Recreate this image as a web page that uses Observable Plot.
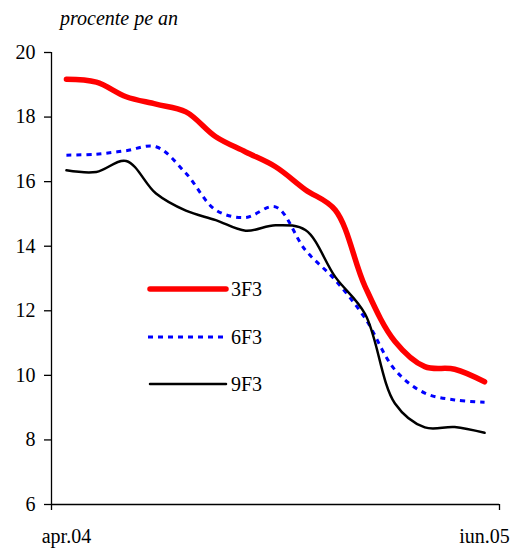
<!DOCTYPE html>
<html>
<head>
<meta charset="utf-8">
<script src="https://cdn.jsdelivr.net/npm/d3@7"></script>
<script src="https://cdn.jsdelivr.net/npm/@observablehq/plot@0.6"></script>
<style>
  body { margin: 0; background: #fff; font-family: 'Liberation Serif', serif !important; }
  #chart { position: relative; width: 523px; height: 548px; color: #000; }
  #chart, #chart * , #chart text { font-family: 'Liberation Serif', serif !important; }
  #chart .title { position: absolute; left: 60px; top: 8px; font-size: 20px; line-height: 20px; font-style: italic; }
  #chart .key { position: absolute; left: 147px; height: 20px; display: flex; align-items: center; font-size: 20px; line-height: 20px; }
  #chart .key svg { display: block; margin-right: 2px; }
  #chart svg.plot { position: absolute; left: 0; top: 0; overflow: visible; }
</style>
</head>
<body>
<div id="chart"></div>
<script>
// Monthly categories, April 2004 to June 2005
const months = ["apr.04", "mai.04", "iun.04", "iul.04", "aug.04", "sep.04", "oct.04",
                "nov.04", "dec.04", "ian.05", "feb.05", "mar.05", "apr.05", "mai.05", "iun.05"];

// Yields, percent per year
const s3F3 = [19.17, 19.08, 18.63, 18.40, 18.16, 17.39, 16.92, 16.46, 15.75, 15.12, 12.75, 11.05, 10.27, 10.19, 9.80];
const s6F3 = [16.82, 16.85, 16.96, 17.08, 16.26, 15.12, 14.89, 15.22, 13.88, 12.95, 11.77, 10.17, 9.45, 9.24, 9.17];
const s9F3 = [16.35, 16.30, 16.64, 15.63, 15.10, 14.81, 14.48, 14.65, 14.50, 13.05, 11.90, 9.13, 8.39, 8.40, 8.22];

const yTicks = [6, 8, 10, 12, 14, 16, 18, 20];
const xLabels = ["apr.04", "iun.05"];
const titleText = "procente pe an";
const serif = "Liberation Serif";

const series = [
  { name: "3F3", values: s3F3, stroke: "#ff0000", width: 5.5, dash: null, cap: "round", key: 289 },
  { name: "6F3", values: s6F3, stroke: "#0000ff", width: 3, dash: "5,5", cap: "butt", key: 337 },
  { name: "9F3", values: s9F3, stroke: "#000000", width: 2.5, dash: null, cap: "round", key: 384 }
];

const rows = s => months.map((m, i) => ({ i, month: m, value: s.values[i], series: s.name }));

const chart = Plot.plot({
  width: 523,
  height: 548,
  marginTop: 52,
  marginBottom: 44,
  marginLeft: 51,
  marginRight: 24,
  style: { fontFamily: serif, fontSize: "20px", color: "#000", background: "transparent" },
  x: { type: "linear", domain: [-0.5, months.length - 0.5] },
  y: { domain: [6, 20] },
  marks: [
    Plot.axisY({ ticks: yTicks, tickSize: 7, tickPadding: 9, label: null, fontSize: 20, strokeWidth: 1.3 }),
    Plot.axisX({ ticks: [-0.5, months.length - 0.5], tickSize: 6, tickFormat: () => "", label: null, strokeWidth: 1.3 }),
    Plot.axisX({ ticks: xLabels.map(l => months.indexOf(l)), tickSize: 0, tickPadding: 24,
                 tickFormat: i => months[i], label: null, fontSize: 20 }),
    Plot.ruleX([-0.5], { strokeWidth: 1.3 }),
    Plot.ruleY([6], { strokeWidth: 1.3 }),
    ...series.map(s => Plot.line(rows(s), {
      x: "i", y: "value", stroke: s.stroke, strokeWidth: s.width,
      strokeDasharray: s.dash, strokeLinecap: s.cap, strokeLinejoin: "round",
      curve: "catmull-rom"
    }))
  ]
});
chart.classList.add("plot");
chart.querySelectorAll("text").forEach(t => t.setAttribute("font-family", serif));

const root = document.getElementById("chart");
root.appendChild(chart);

const title = document.createElement("div");
title.className = "title";
title.textContent = titleText;
root.appendChild(title);

// Series key inside the plot area
for (const s of series) {
  const item = document.createElement("div");
  item.className = "key";
  item.style.top = (s.key - 10) + "px";
  const ns = "http://www.w3.org/2000/svg";
  const sw = document.createElementNS(ns, "svg");
  sw.setAttribute("width", 82);
  sw.setAttribute("height", 20);
  const ln = document.createElementNS(ns, "line");
  ln.setAttribute("x1", s.cap === "round" ? 3 : 1);
  ln.setAttribute("x2", s.cap === "round" ? 79 : 81);
  ln.setAttribute("y1", 10);
  ln.setAttribute("y2", 10);
  ln.setAttribute("stroke", s.stroke);
  ln.setAttribute("stroke-width", s.width);
  ln.setAttribute("stroke-linecap", s.cap);
  if (s.dash) ln.setAttribute("stroke-dasharray", s.dash);
  sw.appendChild(ln);
  item.appendChild(sw);
  const lab = document.createElement("span");
  lab.textContent = s.name;
  item.appendChild(lab);
  root.appendChild(item);
}
</script>
</body>
</html>
